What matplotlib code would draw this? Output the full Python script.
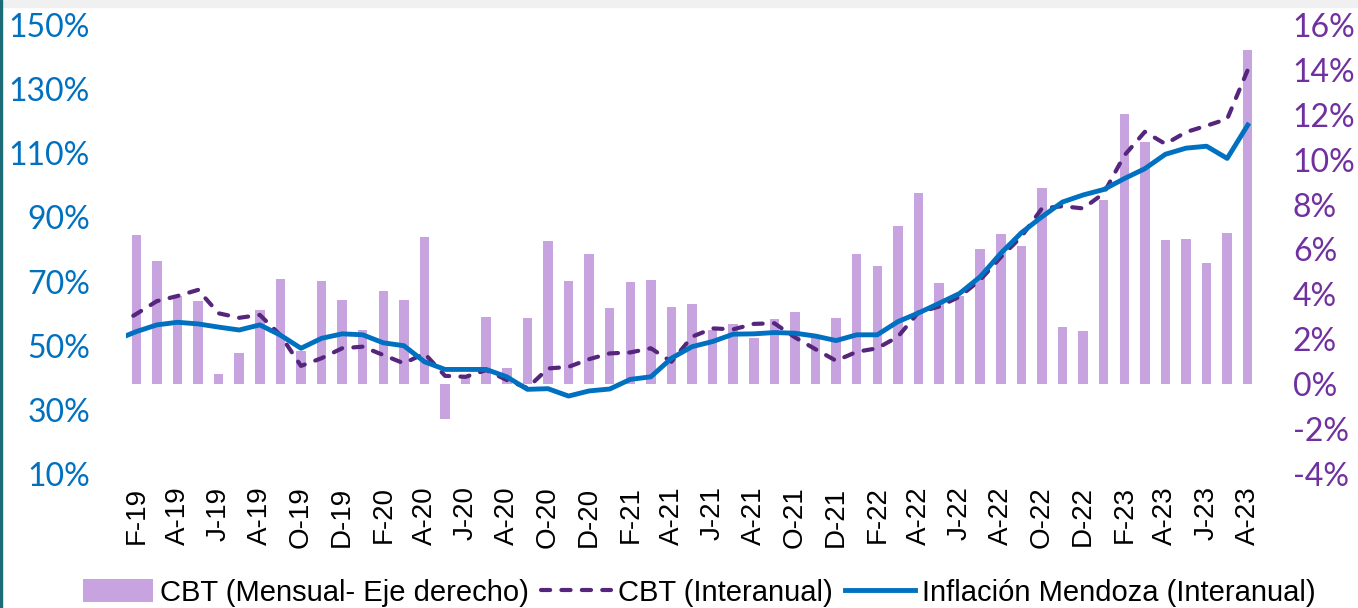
import numpy as np
import matplotlib
matplotlib.use("Agg")
import matplotlib.pyplot as plt
from matplotlib.patches import Rectangle

# Feb-19 .. Aug-23, one bar per month (right axis, %)
meses = [f"{m}-{a}" for a in ["19", "20", "21", "22", "23"]
         for m in ["E", "F", "M", "A", "M", "J", "J", "A", "S", "O", "N", "D"]][1:56]

cbt_mensual = [6.66, 5.47, 3.94, 3.72, 0.45, 1.39, 3.29, 4.69, 1.48, 4.58,
               3.75, 2.43, 4.16, 3.75, 6.54, -1.54, 0.35, 2.98, 0.73, 2.95,
               6.38, 4.58, 5.80, 3.41, 4.55, 4.64, 3.45, 3.57, 2.43, 2.69,
               2.07, 2.90, 3.22, 2.13, 2.93, 5.80, 5.25, 7.05, 8.53, 4.52,
               3.91, 6.02, 6.67, 6.14, 8.72, 2.56, 2.37, 8.22, 12.02, 10.80,
               6.41, 6.47, 5.40, 6.72, 14.90]

# year-on-year series start one month earlier (Jan-19); that point is clipped at the plot edge
cbt_interanual = [56.1,
                  59.9, 63.9, 65.5, 67.4, 60.1, 58.7, 59.6, 53.3, 43.7, 46.1,
                  49.2, 49.7, 47.1, 44.5, 47.6, 40.6, 40.3, 42.4, 39.3, 36.8,
                  42.9, 43.4, 45.8, 47.6, 47.9, 49.2, 45.0, 52.8, 55.4, 55.1,
                  56.8, 57.0, 52.6, 48.9, 45.3, 48.1, 49.2, 52.8, 60.4, 62.2,
                  65.3, 70.5, 77.6, 84.0, 92.8, 93.5, 92.8, 97.5, 109.3, 116.7,
                  112.9, 116.6, 118.6, 120.7, 136.0]

inflacion_mza = [51.8,
                 54.4, 56.5, 57.3, 56.8, 55.8, 54.9, 56.5, 53.3, 49.2, 52.3,
                 53.7, 53.4, 50.9, 50.0, 45.0, 42.6, 42.6, 42.6, 40.3, 36.4,
                 36.6, 34.3, 35.9, 36.5, 39.5, 40.3, 46.1, 49.7, 51.3, 53.6,
                 53.7, 54.1, 53.9, 53.0, 51.6, 53.4, 53.4, 57.5, 60.2, 63.2,
                 66.3, 71.5, 78.8, 85.2, 90.2, 94.8, 97.0, 98.7, 102.1, 105.2,
                 109.7, 111.6, 112.2, 108.4, 118.8]

izq_ticks = [10, 30, 50, 70, 90, 110, 130, 150]
der_ticks = [-4, -2, 0, 2, 4, 6, 8, 10, 12, 14, 16]

c_barra = "#C7A3E0"
c_cbt = "#55267C"
c_inf = "#0070C0"
c_der = "#7030A0"

fig = plt.figure(figsize=(13.58, 6.08), dpi=100)
ax = fig.add_axes([0.0928, 0.2204, 0.8336, 0.7385])
ax2 = ax.twinx()

x_bar = np.arange(len(cbt_mensual))
x_lin = np.arange(-1, len(cbt_mensual))

ax2.bar(x_bar, cbt_mensual, width=0.46, color=c_barra, label="CBT (Mensual- Eje derecho)")
ax.plot(x_lin, cbt_interanual, color=c_cbt, lw=3.0, linestyle=(0, (2.2, 2.7)),
        dash_capstyle="round", label="CBT (Interanual)")
ax.plot(x_lin, inflacion_mza, color=c_inf, lw=3.5, solid_joinstyle="round",
        label="Inflación Mendoza (Interanual)")

# lines in front of the bars
ax.set_zorder(ax2.get_zorder() + 1)
ax.patch.set_visible(False)

ax.set_xlim(-0.5, len(cbt_mensual) - 0.5)
ax.set_ylim(10, 150)
ax2.set_ylim(-4, 16)

ax.set_yticks(izq_ticks)
ax.set_yticklabels([f"{v}%" for v in izq_ticks], color=c_inf, fontsize=23, family="Lato")
ax2.set_yticks(der_ticks)
ax2.set_yticklabels([f"{v}%" for v in der_ticks], color=c_der, fontsize=23, family="Lato")
ax.tick_params(axis="y", length=0, pad=26)
ax2.tick_params(axis="y", length=0, pad=25)

ax.set_xticks(x_bar[::2])
ax.set_xticklabels(meses[::2], rotation=90, fontsize=20, family="Liberation Sans",
                   va="top", ha="center")
ax.tick_params(axis="x", length=0, pad=9)

for a in (ax, ax2):
    for s in a.spines.values():
        s.set_visible(False)

h1, l1 = ax2.get_legend_handles_labels()
h2, l2 = ax.get_legend_handles_labels()
fig.legend(h1 + h2, l1 + l2, loc="center", bbox_to_anchor=(0.515, 0.025), ncol=3,
           frameon=False, prop={"family": "Liberation Sans", "size": 21},
           handlelength=2.4, handleheight=0.85, handletextpad=0.25, columnspacing=0.4)

# thin frame bits of the original screenshot
fig.patches.append(Rectangle((0, 1 - 7 / 608), 1, 7 / 608, transform=fig.transFigure,
                             color="#F0F0F0", zorder=0))
fig.patches.append(Rectangle((0, 0), 2 / 1358, 1, transform=fig.transFigure,
                             color="#1B6B78", zorder=0))

fig.savefig("out.png", dpi=100)
